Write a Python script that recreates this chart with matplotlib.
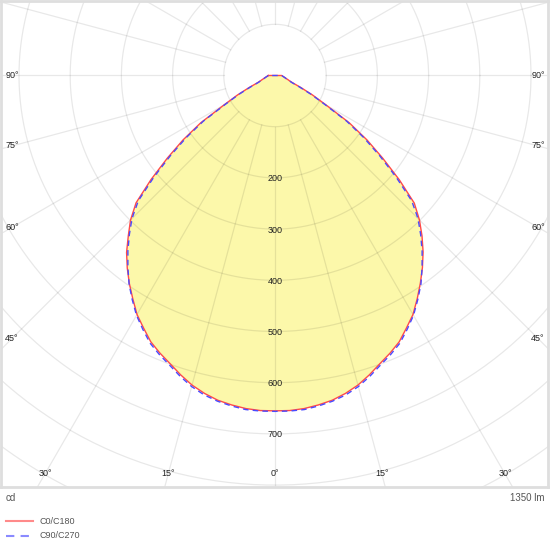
import numpy as np
import matplotlib
matplotlib.use('Agg')
import matplotlib.pyplot as plt
from matplotlib.lines import Line2D

plt.rcParams['font.family'] = ['Liberation Sans', 'DejaVu Sans']

# luminous intensity (cd) per gamma angle for the two C-planes
gamma = [0, 2.5, 5, 7.5, 10, 12.5, 15, 17.5, 20, 22.5, 25, 27.5, 30, 32.5, 35, 37.5,
         40, 42.5, 45, 47.5, 50, 52.5, 55, 57.5, 60, 62.5, 65, 67.5, 70, 72.5, 75,
         77.5, 80, 82.5, 85, 87.5, 90]
c0 = [655, 655, 653, 649, 644, 636, 626, 613, 599, 587, 574, 556, 539, 517, 495, 473,
      450, 425, 399, 369, 317, 265, 219, 172, 115, 83, 56, 37, 30, 26, 22.5,
      20, 18, 16.4, 15, 14, 13]
c180 = [655, 655, 653, 649, 644, 636, 626, 613, 599, 587, 574, 556, 539, 517, 496, 474,
        451, 424, 399, 368, 316, 265, 219, 172, 115, 83, 56, 37, 30, 26, 22.5,
        20, 18, 16.4, 15, 14, 13]
c90 = [656, 656, 655, 651, 646, 639, 629, 616, 602, 590, 577, 559, 541, 519, 497, 472,
       447, 421, 395, 362, 309, 258, 212, 166, 110, 79, 52, 35, 29, 25, 22,
       20, 18, 16.4, 15, 14, 13]
c270 = [656, 656, 655, 651, 646, 639, 629, 616, 602, 590, 577, 559, 541, 519, 497, 472,
        447, 421, 395, 362, 309, 258, 212, 166, 110, 79, 52, 35, 29, 25, 22,
        20, 18, 16.4, 15, 14, 13]

rings = [100, 200, 300, 400, 500, 600, 700, 800, 900, 1000, 1100]
ring_labels = [200, 300, 400, 500, 600, 700]
angle_labels = [0, 15, 30, 45, 60, 75, 90]
unit = 'cd'
flux = '1350 lm'
legend_names = ['C0/C180', 'C90/C270']

W, H = 550, 550
scale = 0.512          # pixels per cd
cx, cy = 275, 75.5     # pole position in pixels

fig = plt.figure(figsize=(W / 100, H / 100), dpi=100)
fig.patch.set_facecolor('white')
ax = fig.add_axes([1 / W, 1 - 487 / H, 547 / W, 486 / H])
ax.set_xlim(-(cx - 1) / scale, (548 - cx) / scale)
ax.set_ylim(-(487 - cy) / scale, (cy - 1) / scale)
ax.set_xticks([])
ax.set_yticks([])
for sp in ax.spines.values():
    sp.set_color('#dedede')
    sp.set_linewidth(2)


def outline(left, right):
    g = np.radians(gamma)
    left = np.array(left, dtype=float)
    right = np.array(right, dtype=float)
    xl, yl = -left * np.sin(g), -left * np.cos(g)
    xr, yr = right * np.sin(g), -right * np.cos(g)
    x = np.concatenate([xl[::-1], xr[1:], xl[-1:]])
    y = np.concatenate([yl[::-1], yr[1:], yl[-1:]])
    return x, y


xa, ya = outline(c180, c0)
xb, yb = outline(c270, c90)

ax.fill(xa, ya, color='#fcf8aa', lw=0, zorder=1)

# grid
th = np.linspace(0, 2 * np.pi, 400)
for r in rings:
    ax.plot(r * np.cos(th), r * np.sin(th), color='black', alpha=0.09, lw=0.9, zorder=2)
for a in range(0, 360, 15):
    t = np.radians(a)
    ax.plot([100 * np.sin(t), 1300 * np.sin(t)], [-100 * np.cos(t), -1300 * np.cos(t)],
            color='black', alpha=0.09, lw=0.9, zorder=2)

ax.plot(xa, ya, color='#ff4a4a', lw=1, zorder=3)
ax.plot(xb, yb, color='#4a4aff', lw=1, dashes=(4, 3), zorder=3)

for r in ring_labels:
    ax.text(0, -r - 2, str(r), ha='center', va='center', fontsize=6.5, color='#222222', zorder=4)

hw = 263 / scale
hb = 398.5 / scale
for a in angle_labels:
    for side in (-1, 1):
        if a == 0 and side == 1:
            continue
        t = np.radians(a)
        s, c = np.sin(t), np.cos(t)
        d = min(hw / s if s > 1e-9 else 1e9, hb / c if c > 1e-9 else 1e9)
        ax.text(side * d * s, -d * c, f'{a}°', ha='center', va='center',
                fontsize=6.5, color='#222222', zorder=4)

fig.text(6 / W, 1 - 498 / H, unit, ha='left', va='center', fontsize=7, color='#555555')
fig.text(544 / W, 1 - 498 / H, flux, ha='right', va='center', fontsize=7, color='#555555')

fig.add_artist(Line2D([6 / W, 33 / W], [1 - 521 / H] * 2, color='#ff8a8a', lw=1.5))
fig.add_artist(Line2D([6 / W, 33 / W], [1 - 536 / H] * 2, color='#8a8aff', lw=1.5, dashes=(4, 3)))
fig.text(39 / W, 1 - 521 / H, legend_names[0], ha='left', va='center', fontsize=6.5, color='#555555')
fig.text(39 / W, 1 - 536 / H, legend_names[1], ha='left', va='center', fontsize=6.5, color='#555555')

fig.savefig('out.png', dpi=100, facecolor='white')
